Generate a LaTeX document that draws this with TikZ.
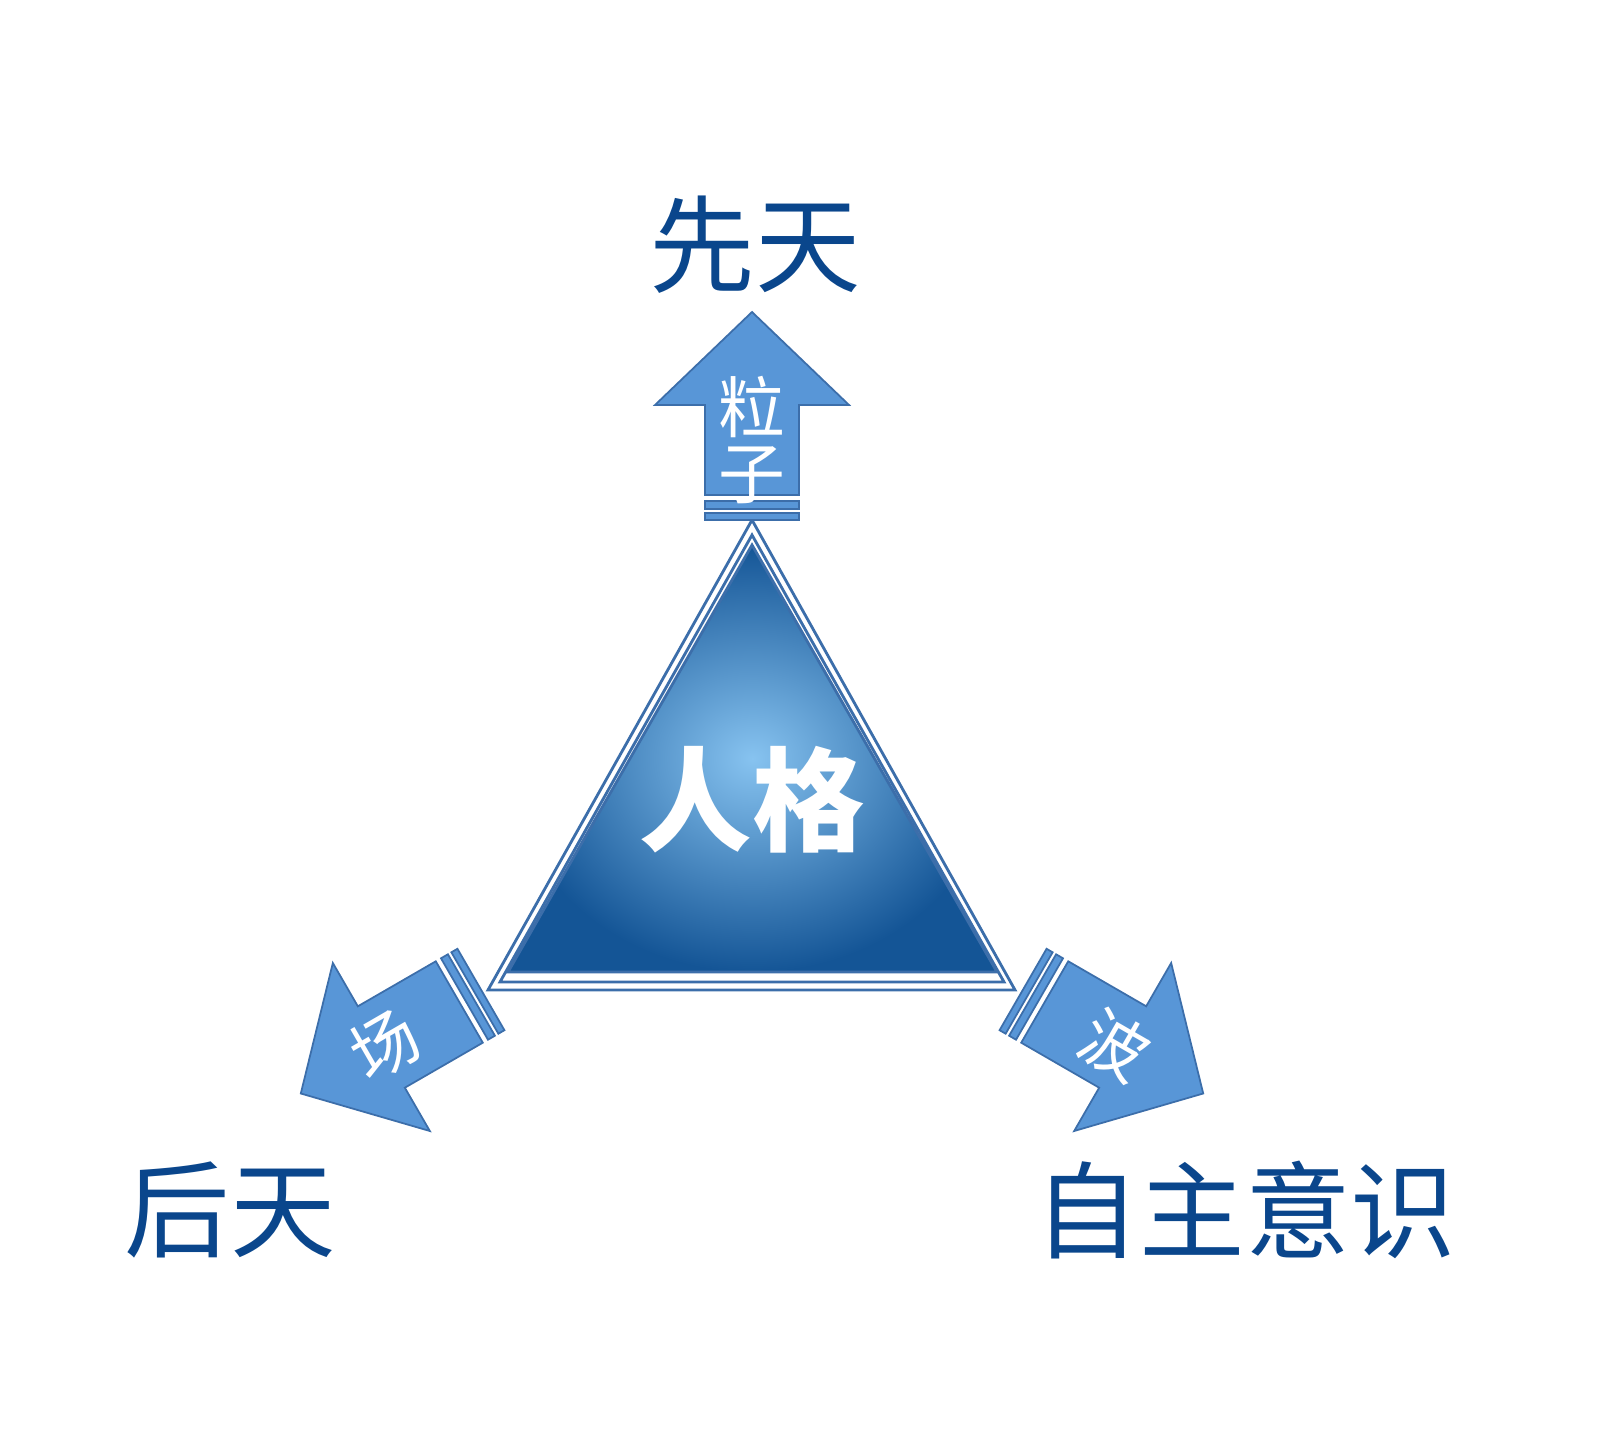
\documentclass[tikz,border=0pt]{standalone}
\usepackage{fontspec}
\newfontfamily\cjk{Noto Sans CJK SC}
\definecolor{arrowblue}{RGB}{88,150,215}
\definecolor{edgeblue}{RGB}{60,110,170}
\definecolor{labelblue}{RGB}{10,70,140}
\tikzset{
  bigarrow/.style={fill=arrowblue, draw=edgeblue, line width=0.5pt},
  outer label/.style={font=\cjk\fontsize{30}{30}\selectfont, text=labelblue},
  arrow label/.style={font=\cjk\fontsize{19}{21}\selectfont, text=white, align=center}
}
\newcommand{\tipArrow}[3]{%
  \begin{scope}[shift={(7.52,6.07)}, rotate=#1]
    % shaft and head
    \draw[bigarrow] (-0.47,3.38) -- (-0.47,4.28) -- (-0.97,4.28) -- (0,5.21)
      -- (0.97,4.28) -- (0.47,4.28) -- (0.47,3.38) -- cycle;
    % bars
    \draw[bigarrow] (-0.47,3.24) rectangle (0.47,3.32);
    \draw[bigarrow] (-0.47,3.13) rectangle (0.47,3.20);
    \node[arrow label, rotate=#2] (#3) at (0,3.85) {};
  \end{scope}}
\begin{document}
\begin{tikzpicture}
  \useasboundingbox (0,0) rectangle (16,14.4);

  % triangle
  \coordinate (c) at (7.52,6.07);
  \draw[edgeblue, line width=0.8pt, fill=white] (7.52,9.20) -- (4.88,4.50) -- (10.15,4.50) -- cycle;
  \draw[edgeblue, line width=0.8pt] (7.52,9.05) -- (5.00,4.58) -- (10.04,4.58) -- cycle;
  \shade[inner color={rgb,255:red,135;green,195;blue,240}, outer color={rgb,255:red,20;green,85;blue,150},
    draw=edgeblue, line width=0.8pt] (7.52,8.95) -- (5.08,4.68) -- (9.97,4.68) -- cycle;
  \node[font=\cjk\bfseries\fontsize{32}{32}\selectfont, text=white] (core) at (7.52,6.40) {人格};

  % arrows
  \tipArrow{0}{0}{up}
  \tipArrow{120}{-120}{left}
  \tipArrow{-120}{120}{right}
  \node[arrow label] (lizi) at (7.52,10.00) {粒\\[-2pt]子};
  \node[arrow label, rotate=30] (chang) at (3.85,3.95) {场};
  \node[arrow label, rotate=-30] (bo) at (11.15,3.95) {波};

  % labels
  \node[outer label] (xiantian) at (7.55,11.95) {先天};
  \node[outer label] (houtian) at (2.30,2.30) {后天};
  \node[outer label] (zizhu) at (12.45,2.30) {自主意识};
\end{tikzpicture}
\end{document}
